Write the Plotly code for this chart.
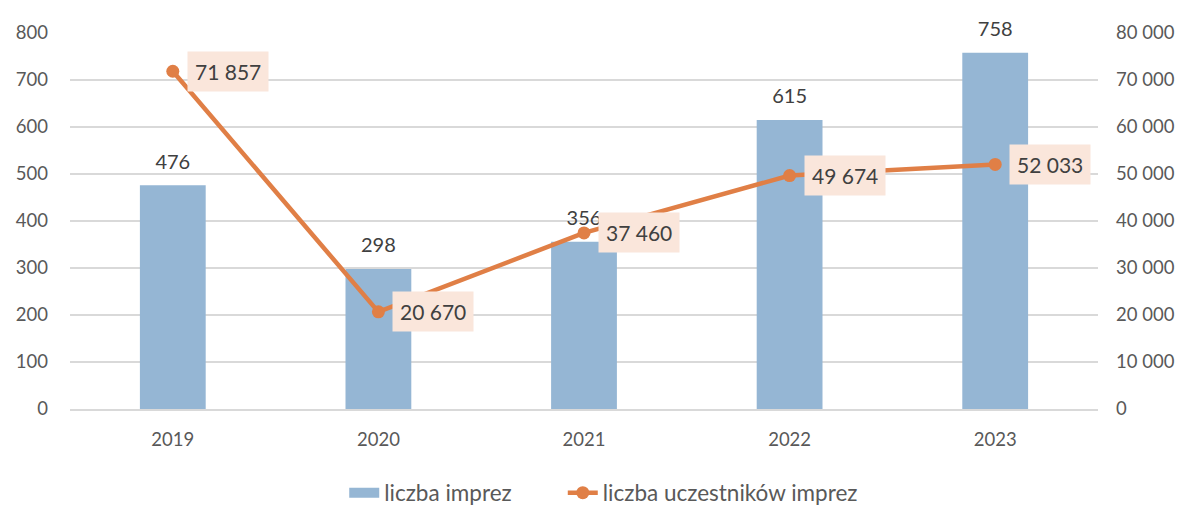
import plotly.graph_objects as go

years = [2019, 2020, 2021, 2022, 2023]
year_labels = ["2019", "2020", "2021", "2022", "2023"]
events = [476, 298, 356, 615, 758]
participants = [71857, 20670, 37460, 49674, 52033]
participant_labels = ["71 857", "20 670", "37 460", "49 674", "52 033"]

FONT = "Lato, 'Open Sans', sans-serif"
TXT = "#595959"
DARK = "#404040"
BLUE = "#95B6D4"
ORANGE = "#E07F46"
GAP = "\u00a0" * 8

fig = go.Figure()
fig.add_trace(go.Bar(
    x=years, y=events, name="liczba imprez", showlegend=False,
    marker=dict(color=BLUE, line=dict(width=0)),
    width=0.32, hoverinfo="skip",
))
# bar value labels (drawn under the line, as in the reference)
fig.add_trace(go.Scatter(
    x=years, y=events, mode="markers+text", showlegend=False,
    text=[str(v) for v in events], textposition="top center",
    textfont=dict(size=20, color=DARK, family=FONT),
    marker=dict(size=17, color="rgba(0,0,0,0)"),
    cliponaxis=False, hoverinfo="skip",
))
# legend proxy for bars
fig.add_trace(go.Scatter(
    x=[None], y=[None], name="liczba imprez" + GAP, mode="lines",
    line=dict(color=BLUE, width=14),
))
fig.add_trace(go.Scatter(
    x=years, y=participants, name="liczba uczestników imprez", yaxis="y2",
    mode="lines+markers",
    line=dict(color=ORANGE, width=4.5),
    marker=dict(color=ORANGE, size=13),
    cliponaxis=False,
))

for x, y, t in zip(years, participants, participant_labels):
    fig.add_annotation(
        x=x, y=y, xref="x", yref="y2", text=t, showarrow=False,
        xanchor="left", yanchor="middle", xshift=14,
        font=dict(size=21, color=DARK, family=FONT),
        bgcolor="#FAE6DB", borderpad=7,
    )

fig.update_layout(
    width=1182, height=497,
    margin=dict(l=62, r=92, t=25, b=96, autoexpand=False),
    paper_bgcolor="white", plot_bgcolor="white",
    separators=", ",
    font=dict(family=FONT, size=18, color=TXT),
    showlegend=True,
    legend=dict(orientation="h", xref="container", yref="container",
                x=0.504, xanchor="center", y=0.024, yanchor="middle",
                font=dict(size=22.5, color=TXT)),
    xaxis=dict(type="linear", range=[2018.5, 2023.5], tickvals=years,
               ticktext=year_labels,
               showgrid=False, showline=True, linecolor="#D9D9D9", linewidth=1.5,
               ticks="", ticklabelstandoff=13, tickfont=dict(size=18.5, color=TXT)),
    yaxis=dict(range=[0, 800], dtick=100, showgrid=True, gridcolor="#D9D9D9",
               gridwidth=1.5, zeroline=False, showline=False, ticks="",
               ticklabelstandoff=21, tickfont=dict(size=18.5, color=TXT)),
    yaxis2=dict(range=[0, 80000], dtick=10000, overlaying="y", side="right",
                showgrid=False, zeroline=False, showline=False, tickformat=",d",
                ticklabelstandoff=17, tickfont=dict(size=18.5, color=TXT)),
)

fig.write_html("out.html")
